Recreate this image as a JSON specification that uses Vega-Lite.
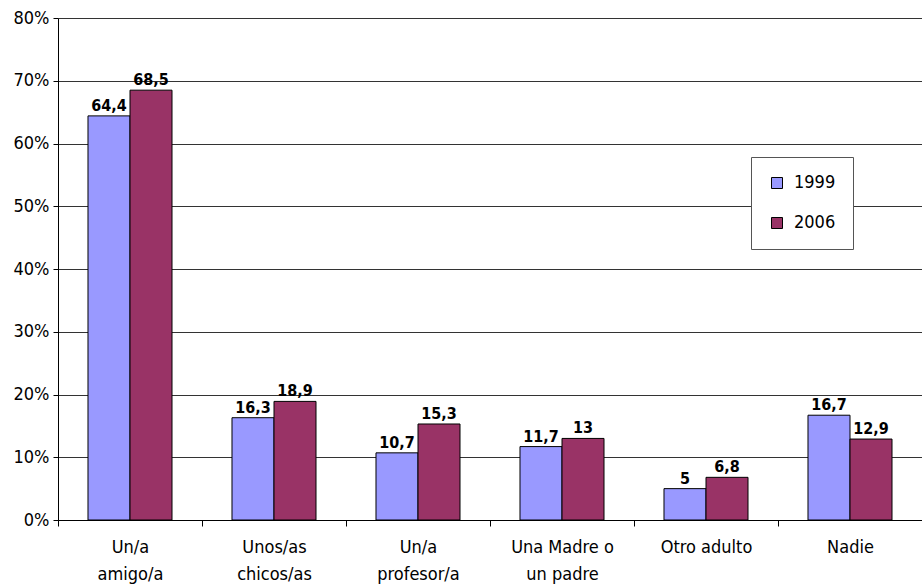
{
  "$schema": "https://vega.github.io/schema/vega-lite/v6.json",
  "autosize": "none",
  "width": 864,
  "height": 502,
  "padding": {"left": 58, "top": 18, "right": 0, "bottom": 65},
  "background": "white",
  "config": {
    "view": {"stroke": null},
    "font": "DejaVu Sans Condensed, sans-serif"
  },
  "data": {
    "values": [
      {"cat": "Un/a amigo/a", "year": "1999", "value": 64.4, "label": "64,4"},
      {"cat": "Un/a amigo/a", "year": "2006", "value": 68.5, "label": "68,5"},
      {"cat": "Unos/as chicos/as", "year": "1999", "value": 16.3, "label": "16,3"},
      {"cat": "Unos/as chicos/as", "year": "2006", "value": 18.9, "label": "18,9"},
      {"cat": "Un/a profesor/a", "year": "1999", "value": 10.7, "label": "10,7"},
      {"cat": "Un/a profesor/a", "year": "2006", "value": 15.3, "label": "15,3"},
      {"cat": "Una Madre o un padre", "year": "1999", "value": 11.7, "label": "11,7"},
      {"cat": "Una Madre o un padre", "year": "2006", "value": 13, "label": "13"},
      {"cat": "Otro adulto", "year": "1999", "value": 5, "label": "5"},
      {"cat": "Otro adulto", "year": "2006", "value": 6.8, "label": "6,8"},
      {"cat": "Nadie", "year": "1999", "value": 16.7, "label": "16,7"},
      {"cat": "Nadie", "year": "2006", "value": 12.9, "label": "12,9"}
    ]
  },
  "encoding": {
    "x": {
      "field": "cat",
      "type": "nominal",
      "sort": null,
      "scale": {"paddingInner": 0, "paddingOuter": 0},
      "axis": {
        "title": null,
        "labelAngle": 0,
        "labelExpr": "datum.value == 'Un/a amigo/a' ? ['Un/a','amigo/a'] : datum.value == 'Unos/as chicos/as' ? ['Unos/as','chicos/as'] : datum.value == 'Un/a profesor/a' ? ['Un/a','profesor/a'] : datum.value == 'Una Madre o un padre' ? ['Una Madre o','un padre'] : datum.value",
        "labelFont": "DejaVu Sans Condensed, sans-serif",
        "labelFontSize": 18,
        "labelColor": "black",
        "labelLineHeight": 27,
        "labelPadding": 12,
        "labelBaseline": "top",
        "tickBand": "extent",
        "tickColor": "black",
        "tickSize": 6,
        "domainColor": "black",
        "grid": false
      }
    },
    "xOffset": {"field": "year", "type": "nominal", "scale": {"paddingInner": 0, "paddingOuter": 0.714}},
    "y": {
      "field": "value",
      "type": "quantitative",
      "scale": {"domain": [0, 80], "nice": false},
      "axis": {
        "title": null,
        "values": [0, 10, 20, 30, 40, 50, 60, 70, 80],
        "labelExpr": "datum.value + '%'",
        "labelFont": "DejaVu Sans Condensed, sans-serif",
        "labelFontSize": 18,
        "labelColor": "black",
        "labelPadding": 4,
        "tickColor": "black",
        "tickSize": 5,
        "domainColor": "black",
        "grid": true,
        "gridColor": "#333333",
        "gridWidth": 1
      }
    }
  },
  "layer": [
    {
      "mark": {"type": "bar", "stroke": "black", "strokeWidth": 1},
      "encoding": {
        "color": {
          "field": "year",
          "type": "nominal",
          "scale": {"domain": ["1999", "2006"], "range": ["#9999FF", "#993366"]},
          "legend": {
            "title": null,
            "orient": "none",
            "legendX": 693,
            "legendY": 139,
            "symbolType": "square",
            "symbolSize": 121,
            "symbolStrokeColor": "black",
            "symbolStrokeWidth": 1,
            "labelFont": "DejaVu Sans Condensed, sans-serif",
            "labelFontSize": 18,
            "labelColor": "black",
            "labelOffset": 8,
            "rowPadding": 22,
            "padding": 17,
            "strokeColor": "#555555",
            "fillColor": "white"
          }
        }
      }
    },
    {
      "mark": {"type": "text", "baseline": "alphabetic", "dy": -5, "fontWeight": "bold", "fontSize": 16, "font": "DejaVu Sans Condensed, sans-serif", "color": "black"},
      "encoding": {
        "text": {"field": "label"}
      }
    }
  ]
}
